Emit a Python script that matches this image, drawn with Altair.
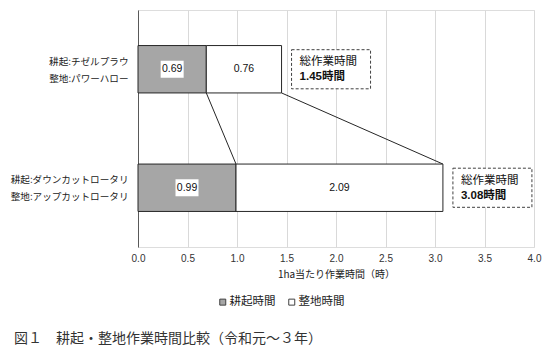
import altair as alt
import pandas as pd

# ---- data ----
categories = [
    ["耕起:チゼルプラウ", "整地:パワーハロー"],
    ["耕起:ダウンカットロータリ", "整地:アップカットロータリ"],
]
tillage = [0.69, 0.99]      # 耕起時間
leveling = [0.76, 2.09]     # 整地時間
series = ["耕起時間", "整地時間"]
x_ticks = [0.0, 0.5, 1.0, 1.5, 2.0, 2.5, 3.0, 3.5, 4.0]
total_title = "総作業時間"
caption = "図１　耕起・整地作業時間比較（令和元～３年）"
x_title = "1ha当たり作業時間（時）"

JP = "Noto Sans CJK JP"
NUM = "Liberation Sans, Noto Sans CJK JP"
HALF = 0.2  # half bar thickness in category units

rows = []
for i in range(len(categories)):
    rows.append(dict(idx=i, series=series[0], start=0.0, end=tillage[i], value=tillage[i]))
    rows.append(dict(idx=i, series=series[1], start=tillage[i],
                     end=tillage[i] + leveling[i], value=leveling[i]))
bars_df = pd.DataFrame(rows)

totals = [round(a + b, 2) for a, b in zip(tillage, leveling)]
tot_df = pd.DataFrame(dict(idx=list(range(len(totals))), total=totals,
                           title=[total_title] * len(totals),
                           label=[f"{t:.2f}時間" for t in totals]))

conn_df = pd.DataFrame(dict(
    xa=[tillage[0], totals[0]], xb=[tillage[1], totals[1]],
    ya=[0 + HALF] * 2, yb=[1 - HALF] * 2))

label_expr = " : ".join(
    f"datum.value == {i} ? [{', '.join(repr(s) for s in cat)}]" for i, cat in enumerate(categories)
) + " : ''"

yscale = alt.Scale(domain=[-0.5, 1.5], reverse=True, nice=False, zero=False)
xscale = alt.Scale(domain=[0, 4], nice=False)

yaxis = alt.Axis(values=list(range(len(categories))), labelExpr=label_expr, grid=False,
                 ticks=False, domain=True, domainColor="#595959", title=None,
                 labelFont=JP, labelFontSize=9.6, labelColor="#222", labelPadding=10,
                 labelLineHeight=17, labelBaseline="middle", labelOffset=-8)
xaxis = alt.Axis(values=x_ticks, format=".1f", grid=True, gridColor="#d9d9d9", ticks=False,
                 domain=False, labelFlush=False, labelFont=NUM, labelFontSize=10,
                 labelColor="#333", labelPadding=6, title=x_title, titleFont=JP,
                 titleFontSize=10, titleFontWeight="normal", titleColor="#222", titlePadding=6)

base = alt.Chart(bars_df).transform_calculate(
    y0=f"datum.idx - {HALF}", y1=f"datum.idx + {HALF}", mid="(datum.start + datum.end) / 2")

bars = base.mark_bar(stroke="#262626", strokeWidth=1).encode(
    x=alt.X("start:Q", scale=xscale, axis=xaxis),
    x2="end:Q",
    y=alt.Y("y0:Q", scale=yscale, axis=yaxis),
    y2="y1:Q",
    fill=alt.Fill("series:N", scale=alt.Scale(domain=series, range=["#a6a6a6", "#ffffff"]),
                  legend=alt.Legend(orient="none", legendX=79, legendY=286, direction="horizontal",
                                    title=None, symbolType="square", symbolSize=36,
                                    symbolStrokeColor="#404040", symbolStrokeWidth=1,
                                    labelFont=JP, labelFontSize=11.5, labelColor="#222",
                                    columnPadding=10, labelOffset=1)),
)

boxes = base.transform_filter(f"datum.series == '{series[0]}'").mark_point(
    shape="M-1,-0.74L1,-0.74L1,0.74L-1,0.74Z", size=529, filled=True, fill="white",
    strokeWidth=0, opacity=1).encode(
    x=alt.X("mid:Q", scale=xscale), y=alt.Y("idx:Q", scale=yscale))

vals = base.mark_text(font=NUM, fontSize=10.5, color="#111").encode(
    x=alt.X("mid:Q", scale=xscale), y=alt.Y("idx:Q", scale=yscale),
    text=alt.Text("value:Q", format=".2f"))

conn = alt.Chart(conn_df).mark_rule(color="#262626", strokeWidth=1).encode(
    x=alt.X("xa:Q", scale=xscale), x2="xb:Q",
    y=alt.Y("ya:Q", scale=yscale), y2="yb:Q")

tbase = alt.Chart(tot_df).transform_calculate(
    b0="datum.idx - 0.165", b1="datum.idx + 0.165")
tbox = tbase.mark_rect(fill="white", stroke="#404040", strokeDash=[3, 2], strokeWidth=1,
                       xOffset=10, x2Offset=89).encode(
    x=alt.X("total:Q", scale=xscale), x2="total:Q",
    y=alt.Y("b0:Q", scale=yscale), y2="b1:Q")
ttitle = tbase.mark_text(align="left", dx=18, dy=-7, font=JP, fontSize=11.5, color="#111").encode(
    x=alt.X("total:Q", scale=xscale), y=alt.Y("idx:Q", scale=yscale), text="title:N")
tlabel = tbase.mark_text(align="left", dx=18, dy=8, font=NUM, fontSize=11.5,
                         fontWeight="bold", color="#111").encode(
    x=alt.X("total:Q", scale=xscale), y=alt.Y("idx:Q", scale=yscale), text="label:N")

chart = alt.layer(conn, bars, boxes, vals, tbox, ttitle, tlabel).properties(
    width=396, height=237,
    autosize=alt.AutoSizeParams(type="none"),
    padding={"left": 130, "top": 2, "right": 14, "bottom": 115},
    title=alt.TitleParams(caption, orient="bottom", anchor="start", frame="group", dx=-124,
                          offset=24, font=JP, fontSize=14, fontWeight="normal", color="#333"),
).configure_view(stroke=None).configure(background="white")

chart.save("out.html", embed_options={"renderer": "svg", "actions": False})
